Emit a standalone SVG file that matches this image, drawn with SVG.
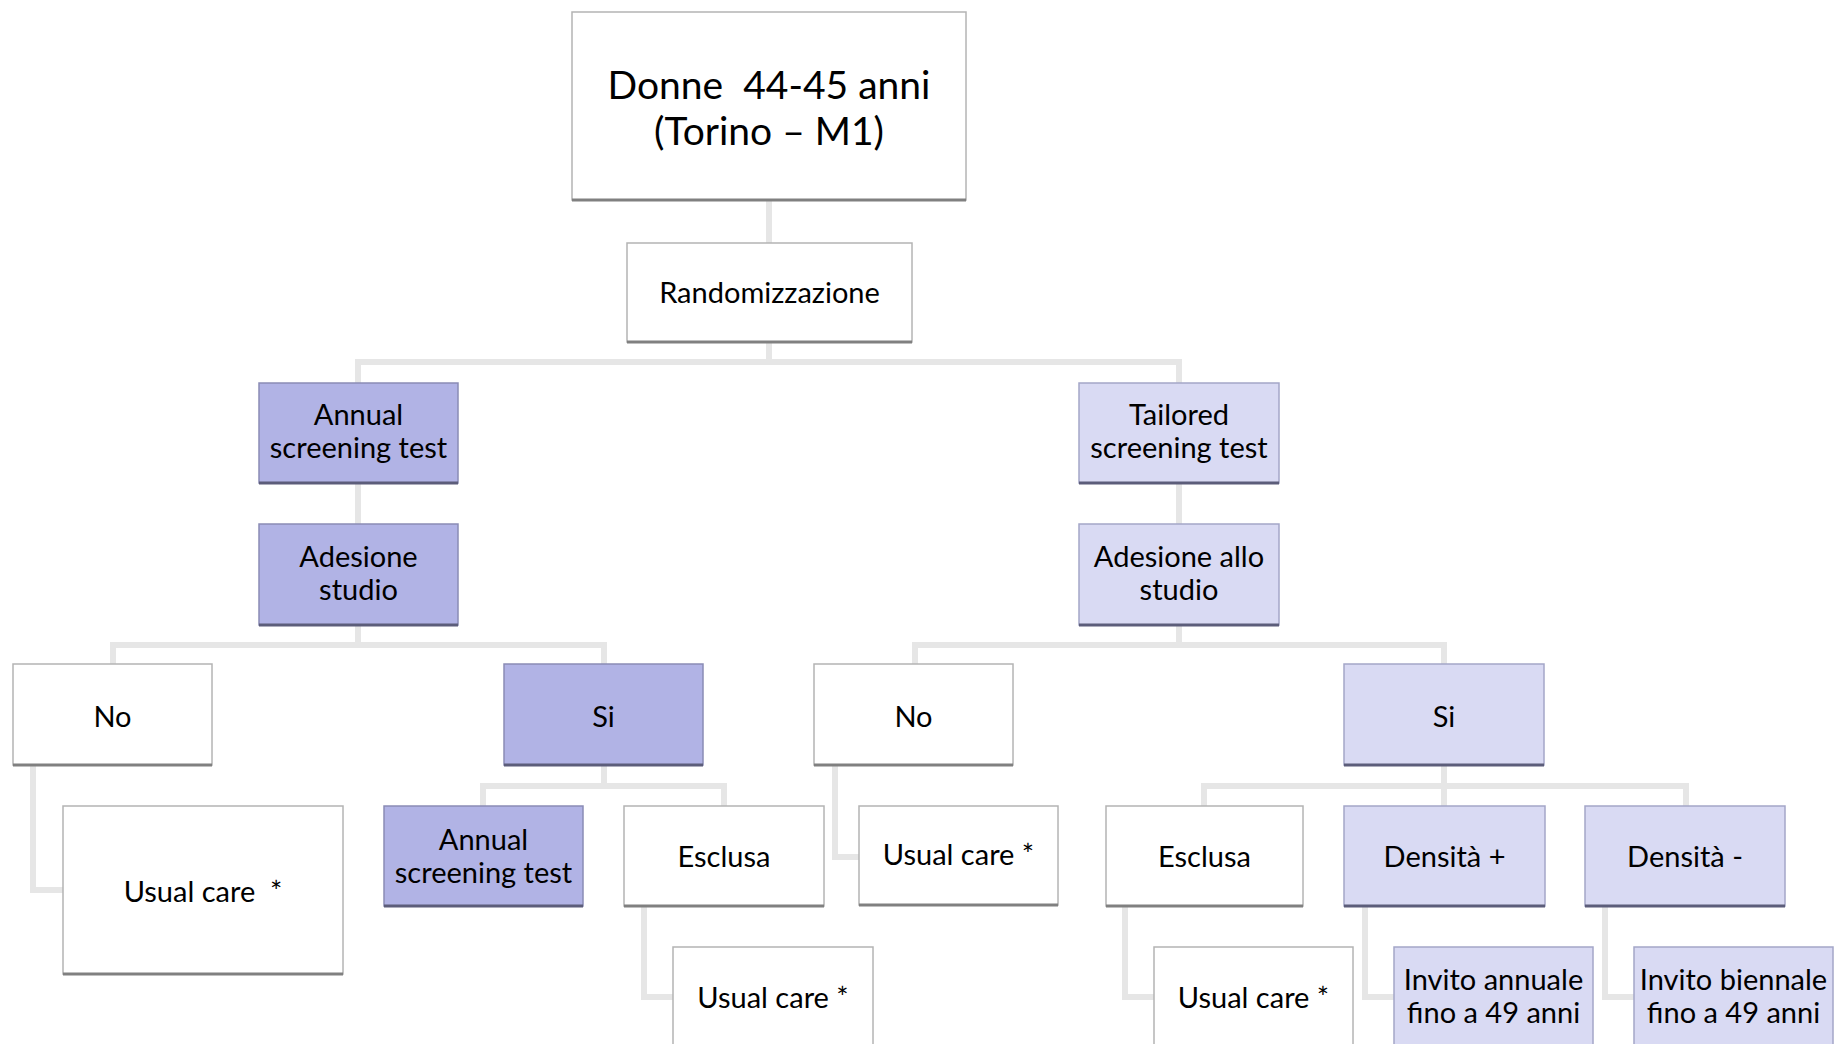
<svg xmlns="http://www.w3.org/2000/svg" width="1834" height="1044" viewBox="0 0 1834 1044">
<style>
text{font-family:"Lato","Open Sans","Liberation Sans",sans-serif;fill:#000;text-anchor:middle;font-size:29px}
.big{font-size:39px}
.w{fill:#ffffff;stroke:#b4b4b4;stroke-width:1.5}
.d{fill:#b1b3e5;stroke:#8a8cb5;stroke-width:1.5}
.l{fill:#d9daf3;stroke:#a4a6c8;stroke-width:1.5}
.bw{stroke:#808080;stroke-width:3}
.bp{stroke:#5c5d7a;stroke-width:3}
.c{fill:none;stroke:#e6e6e6;stroke-width:6;stroke-linejoin:miter}
</style>
<rect width="1834" height="1044" fill="#ffffff"/>
<g id="connectors">
<path class="c" d="M769,200V243"/>
<path class="c" d="M769,342V362M358,383V362H1179V383"/>
<path class="c" d="M358,483V524M1179,483V524"/>
<path class="c" d="M358,625V645M113,664V645H604V664"/>
<path class="c" d="M1179,625V645M915,664V645H1444V664"/>
<path class="c" d="M33,765V890H63"/>
<path class="c" d="M604,765V786M483,806V786H724V806"/>
<path class="c" d="M644,906V997H673"/>
<path class="c" d="M835,765V857H859"/>
<path class="c" d="M1444,765V806M1204,806V786H1686V806"/>
<path class="c" d="M1125,906V997H1154"/>
<path class="c" d="M1365,906V997H1394"/>
<path class="c" d="M1605,906V997H1634"/>
</g>
<g id="n-donne"><rect class="w" x="572" y="12" width="394" height="188"/><path class="bw" d="M572,200H966"/><text class="big" x="769" y="99" xml:space="preserve">Donne  44-45 anni</text><text class="big" x="769" y="145">(Torino – M1)</text></g>
<g id="n-random"><rect class="w" x="627" y="243" width="285" height="99"/><path class="bw" d="M627,342H912"/><text x="769.5" y="303">Randomizzazione</text></g>
<g id="n-annual"><rect class="d" x="259" y="383" width="199" height="100"/><path class="bp" d="M259,483H458"/><text x="358.5" y="425">Annual</text><text x="358.5" y="458">screening test</text></g>
<g id="n-adesione"><rect class="d" x="259" y="524" width="199" height="101"/><path class="bp" d="M259,625H458"/><text x="358.5" y="567">Adesione</text><text x="358.5" y="600">studio</text></g>
<g id="n-tailored"><rect class="l" x="1079" y="383" width="200" height="100"/><path class="bp" d="M1079,483H1279"/><text x="1179" y="425">Tailored</text><text x="1179" y="458">screening test</text></g>
<g id="n-adesione-allo"><rect class="l" x="1079" y="524" width="200" height="101"/><path class="bp" d="M1079,625H1279"/><text x="1179" y="567">Adesione allo</text><text x="1179" y="600">studio</text></g>
<g id="n-no-left"><rect class="w" x="13" y="664" width="199" height="101"/><path class="bw" d="M13,765H212"/><text x="112.5" y="727">No</text></g>
<g id="n-si-left"><rect class="d" x="504" y="664" width="199" height="101"/><path class="bp" d="M504,765H703"/><text x="603.5" y="727">Si</text></g>
<g id="n-usual-1"><rect class="w" x="63" y="806" width="280" height="168"/><path class="bw" d="M63,974H343"/><text x="203" y="902" xml:space="preserve">Usual care  *</text></g>
<g id="n-annual-2"><rect class="d" x="384" y="806" width="199" height="100"/><path class="bp" d="M384,906H583"/><text x="483.5" y="850">Annual</text><text x="483.5" y="883">screening test</text></g>
<g id="n-esclusa-left"><rect class="w" x="624" y="806" width="200" height="100"/><path class="bw" d="M624,906H824"/><text x="724" y="867">Esclusa</text></g>
<g id="n-usual-2"><rect class="w" x="673" y="947" width="200" height="110"/><text x="773" y="1008">Usual care *</text></g>
<g id="n-no-right"><rect class="w" x="814" y="664" width="199" height="101"/><path class="bw" d="M814,765H1013"/><text x="913.5" y="727">No</text></g>
<g id="n-usual-3"><rect class="w" x="859" y="806" width="199" height="99"/><path class="bw" d="M859,905H1058"/><text x="958.5" y="865">Usual care *</text></g>
<g id="n-si-right"><rect class="l" x="1344" y="664" width="200" height="101"/><path class="bp" d="M1344,765H1544"/><text x="1444" y="727">Si</text></g>
<g id="n-esclusa-right"><rect class="w" x="1106" y="806" width="197" height="100"/><path class="bw" d="M1106,906H1303"/><text x="1204.5" y="867">Esclusa</text></g>
<g id="n-densita-plus"><rect class="l" x="1344" y="806" width="201" height="100"/><path class="bp" d="M1344,906H1545"/><text x="1444.5" y="867">Densità +</text></g>
<g id="n-densita-minus"><rect class="l" x="1585" y="806" width="200" height="100"/><path class="bp" d="M1585,906H1785"/><text x="1685" y="867">Densità -</text></g>
<g id="n-usual-4"><rect class="w" x="1154" y="947" width="199" height="110"/><text x="1253.5" y="1008">Usual care *</text></g>
<g id="n-invito-annuale"><rect class="l" x="1394" y="947" width="199" height="110"/><text x="1493.5" y="990">Invito annuale</text><text x="1493.5" y="1023">fino a 49 anni</text></g>
<g id="n-invito-biennale"><rect class="l" x="1634" y="947" width="199" height="110"/><text x="1733.5" y="990">Invito biennale</text><text x="1733.5" y="1023">fino a 49 anni</text></g>
</svg>
